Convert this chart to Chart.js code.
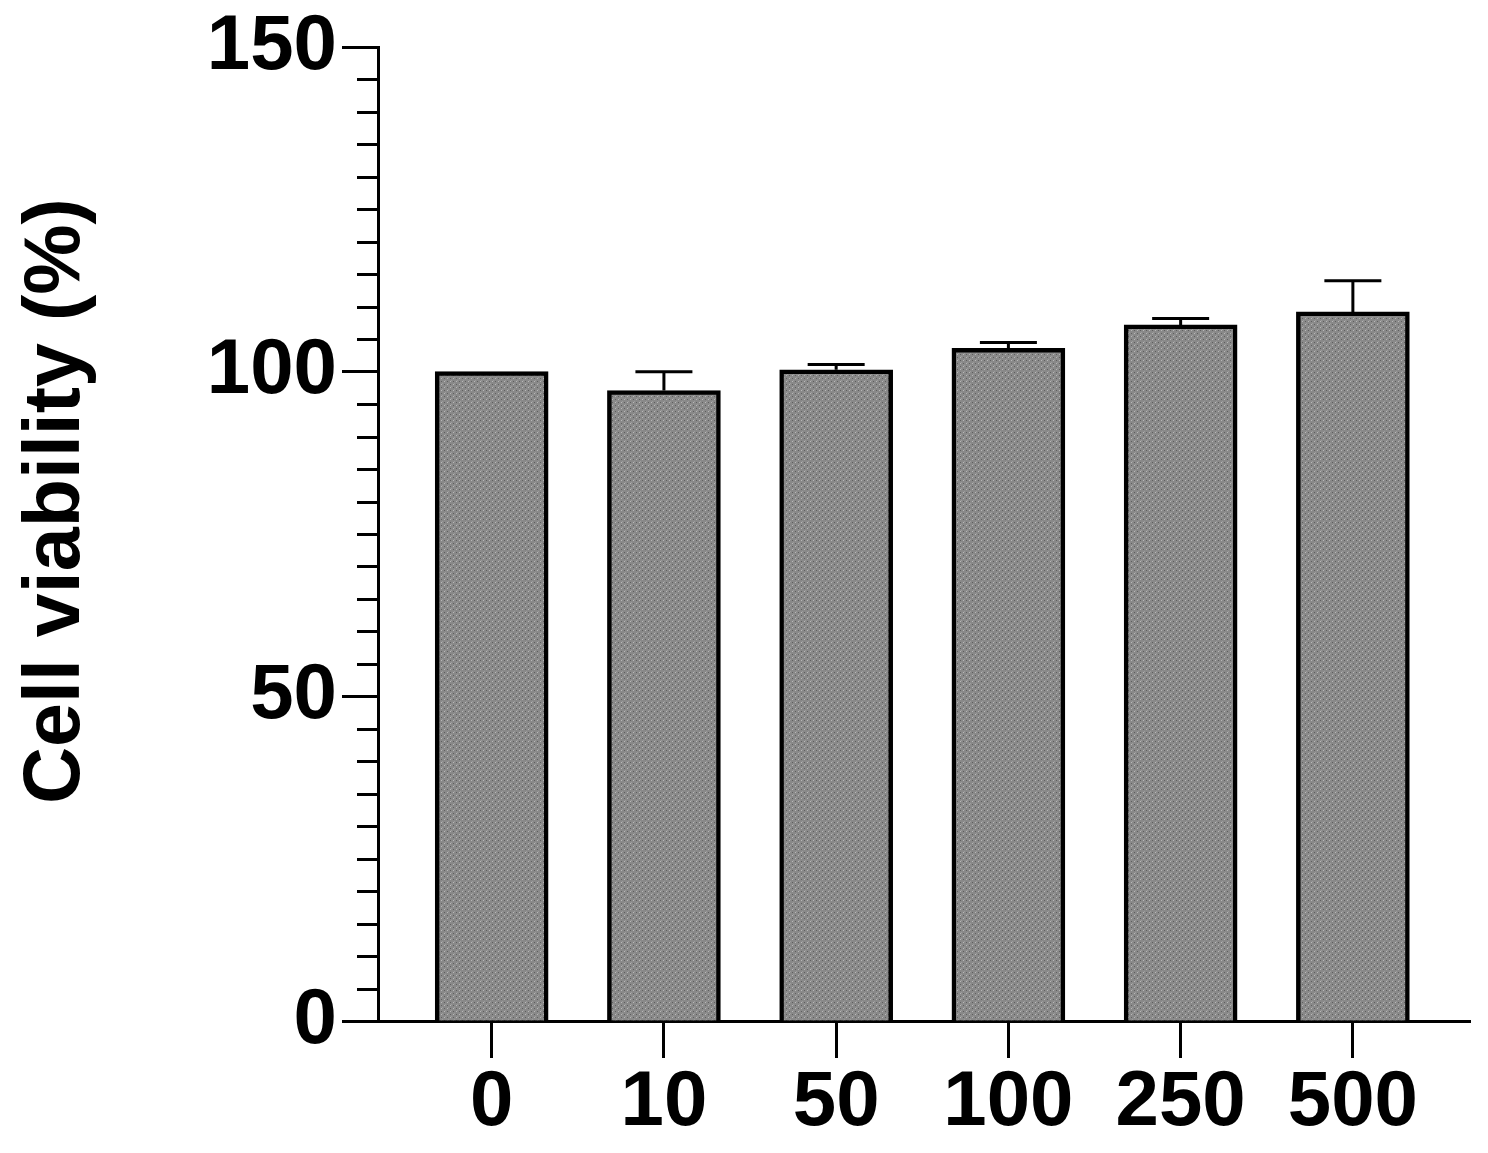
<!DOCTYPE html>
<html>
<head>
<meta charset="utf-8">
<script src="https://cdn.jsdelivr.net/npm/chart.js@4/dist/chart.umd.min.js"></script>
<style>
  html, body { margin: 0; padding: 0; background: #ffffff; }
  #wrap { width: 1488px; height: 1153px; }
</style>
</head>
<body>
<div id="wrap"><canvas id="c" width="1488" height="1153"></canvas></div>
<script>
// ---- data ----
const categories = ['0', '10', '50', '100', '250', '500'];
const viability = [100, 97.1, 100.3, 103.6, 107.2, 109.2];
const errorUp = [0, 2.9, 0.8, 0.9, 1.0, 4.8];
const yMajorTicks = [0, 50, 100, 150];
const yMinorStep = 5;
const yTitle = '\u00a0\u00a0\u00a0Cell viability (%)';

// ---- fill pattern (stippled gray) ----
function makePattern() {
  const p = document.createElement('canvas');
  p.width = 6; p.height = 6;
  const g = p.getContext('2d');
  g.fillStyle = '#898989';
  g.fillRect(0, 0, 6, 6);
  g.fillStyle = '#5e5e5e';
  g.fillRect(0, 0, 1, 1); g.fillRect(3, 3, 1, 1);
  g.fillStyle = '#b8b8b8';
  g.fillRect(3, 0, 1, 1); g.fillRect(0, 3, 1, 1);
  g.fillStyle = '#9c9c9c';
  g.fillRect(1, 2, 1, 1); g.fillRect(4, 5, 1, 1);
  return g.createPattern(p, 'repeat');
}
const ctx = document.getElementById('c').getContext('2d');
const barFill = makePattern();

const FONT = { family: '"Liberation Sans", Arial, Helvetica, sans-serif', weight: 'bold', size: 78, lineHeight: 1.0 };
const TITLE_FONT = { family: '"Liberation Sans", Arial, Helvetica, sans-serif', weight: 'bold', size: 79, lineHeight: 1.2 };

const errorBarPlugin = {
  id: 'errorBars',
  afterDatasetsDraw(chart) {
    const { ctx } = chart;
    const xs = chart.scales.x, ys = chart.scales.y;
    ctx.save();
    ctx.strokeStyle = '#000';
    ctx.lineWidth = 3;
    viability.forEach((v, i) => {
      const e = errorUp[i];
      if (!e) return;
      const x = xs.getPixelForValue(i);
      const y0 = ys.getPixelForValue(v);
      const y1 = ys.getPixelForValue(v + e);
      ctx.beginPath();
      ctx.moveTo(x, y0); ctx.lineTo(x, y1);
      ctx.moveTo(x - 28.5, y1); ctx.lineTo(x + 28.5, y1);
      ctx.stroke();
    });
    ctx.restore();
  }
};

const minorTickPlugin = {
  id: 'minorTicks',
  afterDraw(chart) {
    const { ctx, chartArea } = chart;
    const ys = chart.scales.y;
    ctx.save();
    ctx.strokeStyle = '#000';
    ctx.lineWidth = 3;
    for (let v = ys.min; v <= ys.max; v += yMinorStep) {
      if (yMajorTicks.includes(v)) continue;
      const y = Math.round(ys.getPixelForValue(v)) + 0.5;
      ctx.beginPath();
      ctx.moveTo(chartArea.left - 21, y);
      ctx.lineTo(chartArea.left, y);
      ctx.stroke();
    }
    ctx.restore();
  }
};

new Chart(ctx, {
  type: 'bar',
  data: {
    datasets: [{
      data: viability.map((v, i) => ({ x: i, y: v })),
      backgroundColor: barFill,
      borderColor: '#000',
      borderWidth: 4.5,
      borderSkipped: 'start',
      barThickness: 113
    }]
  },
  options: {
    responsive: false,
    animation: false,
    layout: { padding: { left: 0, right: 18, top: 47, bottom: 0 } },
    plugins: { legend: { display: false }, tooltip: { enabled: false } },
    scales: {
      x: {
        type: 'linear',
        offset: false,
        min: -0.66,
        max: 5.68,
        afterBuildTicks(scale) { scale.ticks = categories.map((_, i) => ({ value: i })); },
        afterFit(scale) { scale.height = 132; },
        ticks: {
          callback: (v) => categories[v],
          color: '#000',
          font: FONT,
          padding: 6,
          maxRotation: 0,
          autoSkip: false
        },
        grid: { offset: false, drawOnChartArea: false, tickLength: 37, tickWidth: 3, tickColor: '#000' },
        border: { display: true, color: '#000', width: 3 }
      },
      y: {
        min: 0,
        max: 150,
        afterBuildTicks(scale) { scale.ticks = yMajorTicks.map(v => ({ value: v })); },
        afterFit(scale) { scale.width = 378; },
        ticks: { color: '#000', font: FONT, padding: 5, autoSkip: false },
        grid: { drawOnChartArea: false, tickLength: 36, tickWidth: 3, tickColor: '#000' },
        border: { display: true, color: '#000', width: 3 },
        title: {
          display: true,
          text: yTitle,
          color: '#000',
          font: TITLE_FONT,
          padding: { top: 10, bottom: 0 }
        }
      }
    }
  },
  plugins: [errorBarPlugin, minorTickPlugin]
});
</script>
</body>
</html>
